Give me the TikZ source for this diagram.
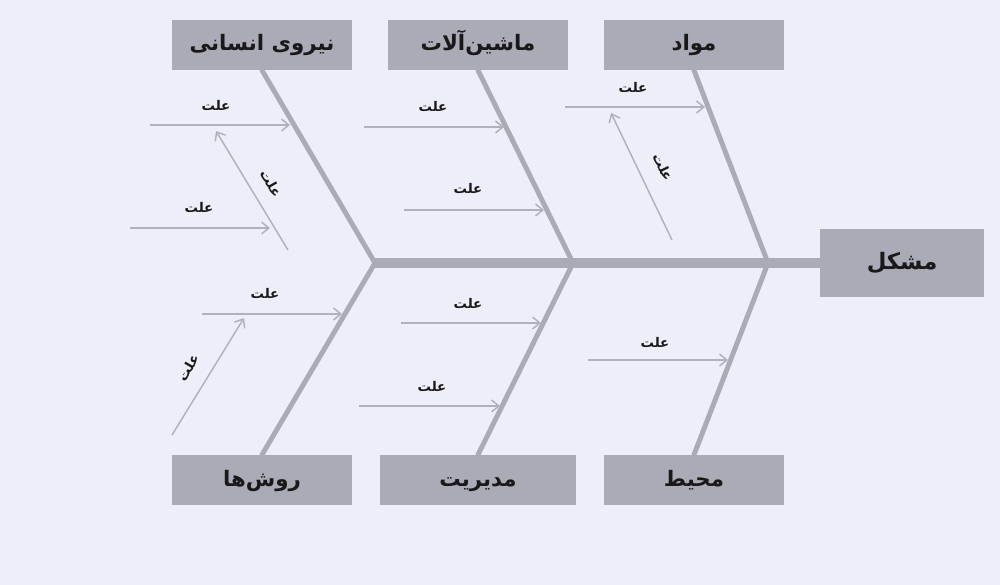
\documentclass[tikz,border=0pt]{standalone}
\usepackage{fontspec}
\newfontfamily\arabicfont[Script=Arabic]{DejaVu Sans}
\TeXXeTstate=1
\usetikzlibrary{arrows.meta}
\definecolor{bgc}{HTML}{EEEEFA}
\definecolor{boxc}{HTML}{ABABB8}
\definecolor{bonec}{HTML}{ABABB8}
\definecolor{arrc}{HTML}{B0B0C0}
\tikzset{
  catbox/.style={fill=boxc, draw=none, minimum width=135pt, minimum height=37.5pt, inner sep=0pt,
    text height=10pt, text depth=1pt,
    font=\arabicfont\bfseries\fontsize{16}{18}\selectfont, text=black!90},
  bone/.style={draw=bonec, line width=3.7pt},
  spine/.style={draw=bonec, line width=6.8pt},
  cause/.style={draw=arrc, line width=1.1pt, -{Straight Barb[length=5.5pt,width=9pt,line width=1.1pt]}},
  lbl/.style={font=\arabicfont\bfseries\fontsize{10}{12}\selectfont, text=black!90, inner sep=1pt}
}
\begin{document}
\begin{tikzpicture}[x=0.75pt,y=-0.75pt]
\fill[bgc] (0,0) rectangle (1000,585);
\useasboundingbox (0,0) rectangle (1000,585);

% boxes
\node[catbox] (hum) at (262,45) {\beginR نیروی انسانی\endR};
\node[catbox] (mac) at (478,45) {\beginR ماشین‌آلات\endR};
\node[catbox] (mat) at (694,45) {\beginR مواد\endR};
\node[catbox, minimum width=123pt, minimum height=51pt, font=\arabicfont\bfseries\fontsize{17}{19}\selectfont] (prob) at (902,263) {\beginR مشکل\endR};
\node[catbox] (met) at (262,480) {\beginR روش‌ها\endR};
\node[catbox, minimum width=147pt] (man) at (478,480) {\beginR مدیریت\endR};
\node[catbox] (env) at (694,480) {\beginR محیط\endR};

% spine joints
\coordinate (j1) at (375,263);
\coordinate (j2) at (573,263);
\coordinate (j3) at (768,263);

\draw[spine] (j1) -- (prob.west);
\draw[bone, line cap=round] (hum.south) -- (j1) -- (met.north);
\draw[bone, line cap=round] (mac.south) -- (j2) -- (man.north);
\draw[bone, line cap=round] (mat.south) -- (j3) -- (env.north);

% cause arrows
\coordinate (h1a) at (150,125); \coordinate (h1b) at (290,125);
\coordinate (h2a) at (130,228); \coordinate (h2b) at (270,228);
\coordinate (h3a) at (288,250); \coordinate (h3b) at (216,131);
\coordinate (m1a) at (364,127); \coordinate (m1b) at (504,127);
\coordinate (m2a) at (404,210); \coordinate (m2b) at (544,210);
\coordinate (t1a) at (565,107); \coordinate (t1b) at (705,107);
\coordinate (t2a) at (672,240); \coordinate (t2b) at (611,113);
\coordinate (r1a) at (202,314); \coordinate (r1b) at (342,314);
\coordinate (r2a) at (172,435); \coordinate (r2b) at (244,318);
\coordinate (g1a) at (401,323); \coordinate (g1b) at (541,323);
\coordinate (g2a) at (359,406); \coordinate (g2b) at (500,406);
\coordinate (e1a) at (588,360); \coordinate (e1b) at (728,360);

\foreach \a/\b in {h1a/h1b,h2a/h2b,h3a/h3b,m1a/m1b,m2a/m2b,t1a/t1b,t2a/t2b,r1a/r1b,r2a/r2b,g1a/g1b,g2a/g2b,e1a/e1b}
  \draw[cause] (\a) -- (\b);

% labels
\node[lbl] (lh1) at (216,105) {\beginR علت\endR};
\node[lbl] (lh2) at (199,207) {\beginR علت\endR};
\node[lbl, rotate=-60] (lh3) at (271,183) {\beginR علت\endR};
\node[lbl] (lm1) at (433,106) {\beginR علت\endR};
\node[lbl] (lm2) at (468,188) {\beginR علت\endR};
\node[lbl] (lt1) at (633,87) {\beginR علت\endR};
\node[lbl, rotate=-64] (lt2) at (663,167) {\beginR علت\endR};
\node[lbl] (lr1) at (265,293) {\beginR علت\endR};
\node[lbl, rotate=60] (lr2) at (188,368) {\beginR علت\endR};
\node[lbl] (lg1) at (468,303) {\beginR علت\endR};
\node[lbl] (lg2) at (432,386) {\beginR علت\endR};
\node[lbl] (le1) at (655,342) {\beginR علت\endR};
\end{tikzpicture}
\end{document}
